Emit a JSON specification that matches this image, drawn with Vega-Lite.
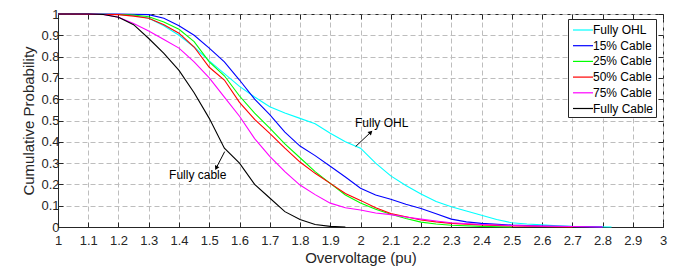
{
  "$schema": "https://vega.github.io/schema/vega-lite/v6.json",
  "width": 605,
  "height": 213,
  "autosize": {"type": "none"},
  "padding": {"left": 58, "top": 14, "right": 11, "bottom": 42},
  "background": "white",
  "config": {
    "view": {"stroke": "#262626", "strokeWidth": 1},
    "font": "Liberation Sans",
    "axis": {
      "labelFont": "Liberation Sans",
      "titleFont": "Liberation Sans",
      "labelFontSize": 13,
      "titleFontSize": 15,
      "titleFontWeight": "normal",
      "labelColor": "#262626",
      "titleColor": "#262626",
      "tickColor": "#262626",
      "domainColor": "#262626",
      "tickSize": -5,
      "labelFlush": false,
      "labelOverlap": false
    }
  },
  "datasets": {
    "curves": [
      {"series": "Fully OHL", "v": 1, "p": 1}, {"series": "Fully OHL", "v": 1.1, "p": 1}, {"series": "Fully OHL", "v": 1.2, "p": 0.998}, {"series": "Fully OHL", "v": 1.25, "p": 0.993}, {"series": "Fully OHL", "v": 1.3, "p": 0.98}, {"series": "Fully OHL", "v": 1.35, "p": 0.945}, {"series": "Fully OHL", "v": 1.4, "p": 0.9}, {"series": "Fully OHL", "v": 1.45, "p": 0.845}, {"series": "Fully OHL", "v": 1.5, "p": 0.78}, {"series": "Fully OHL", "v": 1.55, "p": 0.72}, {"series": "Fully OHL", "v": 1.6, "p": 0.66}, {"series": "Fully OHL", "v": 1.65, "p": 0.61}, {"series": "Fully OHL", "v": 1.7, "p": 0.565}, {"series": "Fully OHL", "v": 1.75, "p": 0.535}, {"series": "Fully OHL", "v": 1.8, "p": 0.51}, {"series": "Fully OHL", "v": 1.85, "p": 0.485}, {"series": "Fully OHL", "v": 1.9, "p": 0.44}, {"series": "Fully OHL", "v": 1.95, "p": 0.4}, {"series": "Fully OHL", "v": 2.0, "p": 0.37}, {"series": "Fully OHL", "v": 2.05, "p": 0.3}, {"series": "Fully OHL", "v": 2.1, "p": 0.24}, {"series": "Fully OHL", "v": 2.15, "p": 0.195}, {"series": "Fully OHL", "v": 2.2, "p": 0.155}, {"series": "Fully OHL", "v": 2.25, "p": 0.12}, {"series": "Fully OHL", "v": 2.3, "p": 0.095}, {"series": "Fully OHL", "v": 2.35, "p": 0.075}, {"series": "Fully OHL", "v": 2.4, "p": 0.055}, {"series": "Fully OHL", "v": 2.45, "p": 0.035}, {"series": "Fully OHL", "v": 2.5, "p": 0.02}, {"series": "Fully OHL", "v": 2.55, "p": 0.014}, {"series": "Fully OHL", "v": 2.6, "p": 0.01}, {"series": "Fully OHL", "v": 2.65, "p": 0.006}, {"series": "Fully OHL", "v": 2.7, "p": 0.003}, {"series": "Fully OHL", "v": 2.75, "p": 0.002}, {"series": "Fully OHL", "v": 2.83, "p": 0},

      {"series": "15% Cable", "v": 1, "p": 1}, {"series": "15% Cable", "v": 1.2, "p": 1}, {"series": "15% Cable", "v": 1.3, "p": 0.997}, {"series": "15% Cable", "v": 1.35, "p": 0.98}, {"series": "15% Cable", "v": 1.4, "p": 0.945}, {"series": "15% Cable", "v": 1.45, "p": 0.9}, {"series": "15% Cable", "v": 1.5, "p": 0.84}, {"series": "15% Cable", "v": 1.55, "p": 0.775}, {"series": "15% Cable", "v": 1.6, "p": 0.69}, {"series": "15% Cable", "v": 1.65, "p": 0.6}, {"series": "15% Cable", "v": 1.7, "p": 0.528}, {"series": "15% Cable", "v": 1.75, "p": 0.445}, {"series": "15% Cable", "v": 1.8, "p": 0.38}, {"series": "15% Cable", "v": 1.85, "p": 0.335}, {"series": "15% Cable", "v": 1.9, "p": 0.285}, {"series": "15% Cable", "v": 1.95, "p": 0.235}, {"series": "15% Cable", "v": 2.0, "p": 0.182}, {"series": "15% Cable", "v": 2.05, "p": 0.15}, {"series": "15% Cable", "v": 2.1, "p": 0.13}, {"series": "15% Cable", "v": 2.15, "p": 0.107}, {"series": "15% Cable", "v": 2.2, "p": 0.087}, {"series": "15% Cable", "v": 2.25, "p": 0.062}, {"series": "15% Cable", "v": 2.3, "p": 0.037}, {"series": "15% Cable", "v": 2.35, "p": 0.024}, {"series": "15% Cable", "v": 2.4, "p": 0.017}, {"series": "15% Cable", "v": 2.5, "p": 0.009}, {"series": "15% Cable", "v": 2.6, "p": 0.005}, {"series": "15% Cable", "v": 2.7, "p": 0.002}, {"series": "15% Cable", "v": 2.8, "p": 0},

      {"series": "25% Cable", "v": 1, "p": 1}, {"series": "25% Cable", "v": 1.2, "p": 0.998}, {"series": "25% Cable", "v": 1.25, "p": 0.995}, {"series": "25% Cable", "v": 1.3, "p": 0.987}, {"series": "25% Cable", "v": 1.35, "p": 0.962}, {"series": "25% Cable", "v": 1.4, "p": 0.928}, {"series": "25% Cable", "v": 1.45, "p": 0.87}, {"series": "25% Cable", "v": 1.5, "p": 0.775}, {"series": "25% Cable", "v": 1.55, "p": 0.71}, {"series": "25% Cable", "v": 1.6, "p": 0.615}, {"series": "25% Cable", "v": 1.65, "p": 0.535}, {"series": "25% Cable", "v": 1.7, "p": 0.464}, {"series": "25% Cable", "v": 1.75, "p": 0.39}, {"series": "25% Cable", "v": 1.8, "p": 0.325}, {"series": "25% Cable", "v": 1.85, "p": 0.26}, {"series": "25% Cable", "v": 1.9, "p": 0.205}, {"series": "25% Cable", "v": 1.95, "p": 0.15}, {"series": "25% Cable", "v": 2.0, "p": 0.113}, {"series": "25% Cable", "v": 2.05, "p": 0.083}, {"series": "25% Cable", "v": 2.1, "p": 0.06}, {"series": "25% Cable", "v": 2.15, "p": 0.04}, {"series": "25% Cable", "v": 2.2, "p": 0.023}, {"series": "25% Cable", "v": 2.25, "p": 0.014}, {"series": "25% Cable", "v": 2.3, "p": 0.008}, {"series": "25% Cable", "v": 2.4, "p": 0.003}, {"series": "25% Cable", "v": 2.5, "p": 0},

      {"series": "50% Cable", "v": 1, "p": 1}, {"series": "50% Cable", "v": 1.2, "p": 0.997}, {"series": "50% Cable", "v": 1.25, "p": 0.99}, {"series": "50% Cable", "v": 1.3, "p": 0.98}, {"series": "50% Cable", "v": 1.35, "p": 0.95}, {"series": "50% Cable", "v": 1.4, "p": 0.91}, {"series": "50% Cable", "v": 1.45, "p": 0.845}, {"series": "50% Cable", "v": 1.5, "p": 0.75}, {"series": "50% Cable", "v": 1.55, "p": 0.69}, {"series": "50% Cable", "v": 1.6, "p": 0.585}, {"series": "50% Cable", "v": 1.65, "p": 0.505}, {"series": "50% Cable", "v": 1.7, "p": 0.44}, {"series": "50% Cable", "v": 1.75, "p": 0.37}, {"series": "50% Cable", "v": 1.8, "p": 0.305}, {"series": "50% Cable", "v": 1.85, "p": 0.252}, {"series": "50% Cable", "v": 1.9, "p": 0.205}, {"series": "50% Cable", "v": 1.95, "p": 0.157}, {"series": "50% Cable", "v": 2.0, "p": 0.125}, {"series": "50% Cable", "v": 2.05, "p": 0.09}, {"series": "50% Cable", "v": 2.1, "p": 0.063}, {"series": "50% Cable", "v": 2.15, "p": 0.048}, {"series": "50% Cable", "v": 2.2, "p": 0.033}, {"series": "50% Cable", "v": 2.25, "p": 0.024}, {"series": "50% Cable", "v": 2.3, "p": 0.017}, {"series": "50% Cable", "v": 2.4, "p": 0.01}, {"series": "50% Cable", "v": 2.5, "p": 0.005}, {"series": "50% Cable", "v": 2.6, "p": 0.002}, {"series": "50% Cable", "v": 2.7, "p": 0},

      {"series": "75% Cable", "v": 1, "p": 1}, {"series": "75% Cable", "v": 1.1, "p": 1}, {"series": "75% Cable", "v": 1.15, "p": 0.998}, {"series": "75% Cable", "v": 1.2, "p": 0.985}, {"series": "75% Cable", "v": 1.25, "p": 0.955}, {"series": "75% Cable", "v": 1.3, "p": 0.92}, {"series": "75% Cable", "v": 1.35, "p": 0.88}, {"series": "75% Cable", "v": 1.4, "p": 0.84}, {"series": "75% Cable", "v": 1.45, "p": 0.775}, {"series": "75% Cable", "v": 1.5, "p": 0.7}, {"series": "75% Cable", "v": 1.55, "p": 0.61}, {"series": "75% Cable", "v": 1.6, "p": 0.52}, {"series": "75% Cable", "v": 1.65, "p": 0.415}, {"series": "75% Cable", "v": 1.7, "p": 0.332}, {"series": "75% Cable", "v": 1.75, "p": 0.26}, {"series": "75% Cable", "v": 1.8, "p": 0.197}, {"series": "75% Cable", "v": 1.85, "p": 0.152}, {"series": "75% Cable", "v": 1.9, "p": 0.112}, {"series": "75% Cable", "v": 1.95, "p": 0.09}, {"series": "75% Cable", "v": 2.0, "p": 0.08}, {"series": "75% Cable", "v": 2.05, "p": 0.066}, {"series": "75% Cable", "v": 2.1, "p": 0.058}, {"series": "75% Cable", "v": 2.15, "p": 0.047}, {"series": "75% Cable", "v": 2.2, "p": 0.037}, {"series": "75% Cable", "v": 2.25, "p": 0.028}, {"series": "75% Cable", "v": 2.3, "p": 0.02}, {"series": "75% Cable", "v": 2.4, "p": 0.012}, {"series": "75% Cable", "v": 2.5, "p": 0.007}, {"series": "75% Cable", "v": 2.6, "p": 0.004}, {"series": "75% Cable", "v": 2.7, "p": 0.002}, {"series": "75% Cable", "v": 2.8, "p": 0},

      {"series": "Fully Cable", "v": 1, "p": 1}, {"series": "Fully Cable", "v": 1.1, "p": 1}, {"series": "Fully Cable", "v": 1.15, "p": 0.998}, {"series": "Fully Cable", "v": 1.2, "p": 0.985}, {"series": "Fully Cable", "v": 1.25, "p": 0.95}, {"series": "Fully Cable", "v": 1.3, "p": 0.885}, {"series": "Fully Cable", "v": 1.35, "p": 0.815}, {"series": "Fully Cable", "v": 1.4, "p": 0.735}, {"series": "Fully Cable", "v": 1.45, "p": 0.63}, {"series": "Fully Cable", "v": 1.5, "p": 0.51}, {"series": "Fully Cable", "v": 1.55, "p": 0.37}, {"series": "Fully Cable", "v": 1.6, "p": 0.3}, {"series": "Fully Cable", "v": 1.65, "p": 0.2}, {"series": "Fully Cable", "v": 1.7, "p": 0.136}, {"series": "Fully Cable", "v": 1.75, "p": 0.072}, {"series": "Fully Cable", "v": 1.8, "p": 0.035}, {"series": "Fully Cable", "v": 1.85, "p": 0.012}, {"series": "Fully Cable", "v": 1.9, "p": 0.003}, {"series": "Fully Cable", "v": 1.95, "p": 0}
    ],
    "notes": [
      {"kind": "text", "label": "Fully OHL", "x": 2.07, "y": 0.49},
      {"kind": "text", "label": "Fully cable", "x": 1.462, "y": 0.245},
      {"kind": "arrow", "x": 2.034, "y": 0.445, "x0": 1.984, "y0": 0.378, "angle": 46},
      {"kind": "arrow", "x": 1.523, "y": 0.277, "x0": 1.551, "y0": 0.354, "angle": 207}
    ]
  },
  "layer": [
    {
      "data": {"name": "curves"},
      "mark": {"type": "line", "strokeWidth": 1.1},
      "encoding": {
        "x": {
          "field": "v", "type": "quantitative",
          "scale": {"domain": [1, 3], "nice": false, "zero": false},
          "axis": {
            "orient": "bottom",
            "values": [1, 1.1, 1.2, 1.3, 1.4, 1.5, 1.6, 1.7, 1.8, 1.9, 2, 2.1, 2.2, 2.3, 2.4, 2.5, 2.6, 2.7, 2.8, 2.9, 3],
            "format": "~g",
            "title": "Overvoltage (pu)",
            "titlePadding": 3,
            "labelPadding": 12.5,
            "grid": true,
            "gridDash": [5, 3],
            "gridColor": "#bdbdbd",
            "gridWidth": 1
          }
        },
        "y": {
          "field": "p", "type": "quantitative",
          "scale": {"domain": [0, 1], "nice": false},
          "axis": {
            "orient": "left",
            "values": [0, 0.1, 0.2, 0.3, 0.4, 0.5, 0.6, 0.7, 0.8, 0.9, 1],
            "format": "~g",
            "title": "Cumulative Probability",
            "titlePadding": 4,
            "labelPadding": 4,
            "grid": true,
            "gridDash": [5, 3],
            "gridColor": "#bdbdbd",
            "gridWidth": 1
          }
        },
        "color": {
          "field": "series", "type": "nominal",
          "scale": {
            "domain": ["Fully OHL", "15% Cable", "25% Cable", "50% Cable", "75% Cable", "Fully Cable"],
            "range": ["#00FFFF", "#0000FF", "#00FF00", "#FF0000", "#FF00FF", "#000000"]
          },
          "legend": {
            "orient": "none",
            "legendX": 510,
            "legendY": 5,
            "title": null,
            "strokeColor": "#262626",
            "fillColor": "white",
            "padding": 2,
            "symbolType": "M-1.25,0H1.25",
            "symbolSize": 256,
            "symbolStrokeWidth": 1.2,
            "symbolOffset": 4,
            "labelOffset": 1,
            "rowPadding": 0.7,
            "labelFont": "Liberation Sans",
            "labelFontSize": 12,
            "labelColor": "#000000"
          }
        }
      }
    },
    {
      "data": {"name": "notes"},
      "encoding": {
        "x": {
          "field": "x", "type": "quantitative",
          "scale": {"domain": [1, 3], "nice": false, "zero": false},
          "axis": {"orient": "top", "values": [1, 1.1, 1.2, 1.3, 1.4, 1.5, 1.6, 1.7, 1.8, 1.9, 2, 2.1, 2.2, 2.3, 2.4, 2.5, 2.6, 2.7, 2.8, 2.9, 3], "labels": false, "title": null, "grid": false, "domain": false}
        },
        "y": {
          "field": "y", "type": "quantitative",
          "scale": {"domain": [0, 1], "nice": false},
          "axis": {"orient": "right", "values": [0, 0.1, 0.2, 0.3, 0.4, 0.5, 0.6, 0.7, 0.8, 0.9, 1], "labels": false, "title": null, "grid": false, "domain": false}
        }
      },
      "layer": [
        {
          "transform": [{"filter": "datum.kind === 'arrow'"}],
          "mark": {"type": "rule", "color": "black", "strokeWidth": 1},
          "encoding": {"x2": {"field": "x0"}, "y2": {"field": "y0"}}
        },
        {
          "transform": [{"filter": "datum.kind === 'arrow'"}],
          "mark": {"type": "point", "shape": "triangle-up", "filled": true, "color": "black", "size": 24, "opacity": 1},
          "encoding": {"angle": {"field": "angle", "type": "quantitative", "scale": null}}
        },
        {
          "transform": [{"filter": "datum.kind === 'text'"}],
          "mark": {"type": "text", "fontSize": 12, "font": "Liberation Sans", "color": "black"},
          "encoding": {"text": {"field": "label", "type": "nominal"}}
        }
      ]
    }
  ],
  "resolve": {"scale": {"x": "independent", "y": "independent"}}
}
